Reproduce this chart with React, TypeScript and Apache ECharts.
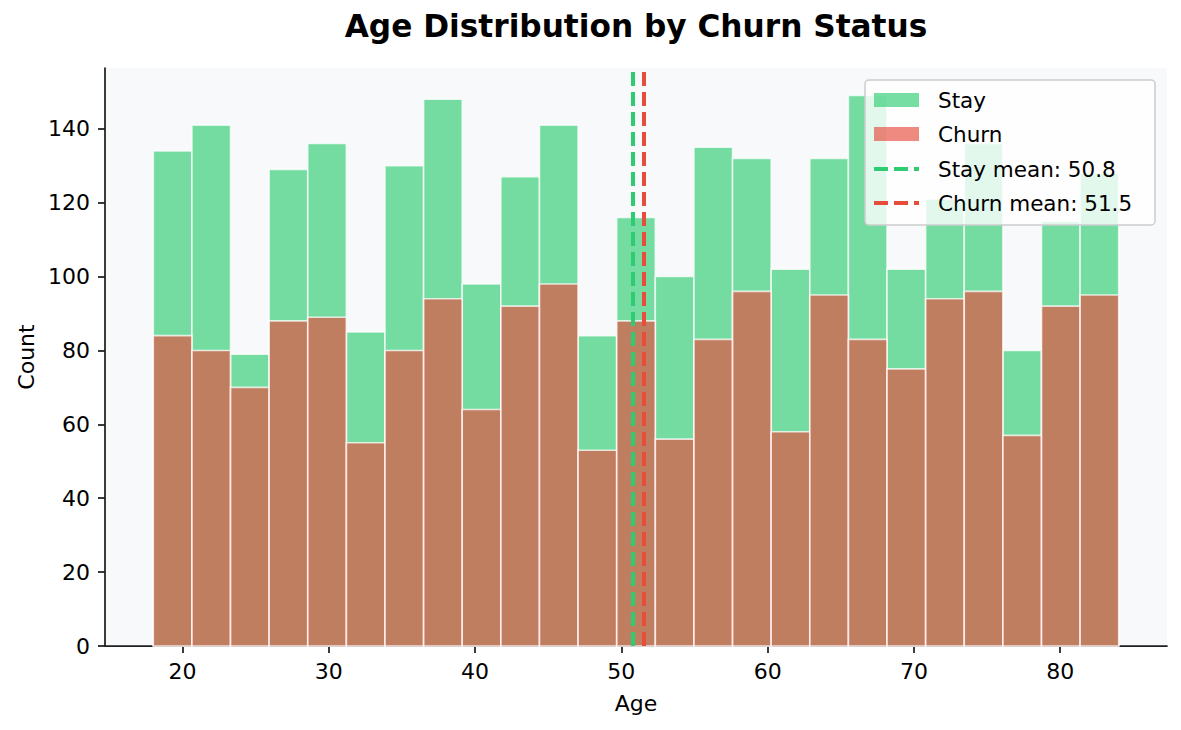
import React, { useEffect, useRef } from "react";
import * as echarts from "echarts";

// ---- data ----
const BIN_MIN = 18;
const BIN_MAX = 84;
const BIN_COUNT = 25;
const stayCounts = [134, 141, 79, 129, 136, 85, 130, 148, 98, 127, 141, 84, 116, 100, 135, 132, 102, 132, 149, 102, 121, 136, 80, 115, 128];
const churnCounts = [84, 80, 70, 88, 89, 55, 80, 94, 64, 92, 98, 53, 88, 56, 83, 96, 58, 95, 83, 75, 94, 96, 57, 92, 95];
const stayMean = 50.8;
const churnMean = 51.5;
const xTicks = [20, 30, 40, 50, 60, 70, 80];
const yTicks = [0, 20, 40, 60, 80, 100, 120, 140];
const seriesNames = ["Stay", "Churn"];
const meanLabels = [`Stay mean: ${stayMean}`, `Churn mean: ${churnMean}`];
const TITLE = "Age Distribution by Churn Status";

const GREEN = "#2ecc71";
const RED = "#e74c3c";
const FONT = "DejaVu Sans";

function toRgba(hex: string, a: number) {
  const n = parseInt(hex.slice(1), 16);
  return `rgba(${(n >> 16) & 255},${(n >> 8) & 255},${n & 255},${a})`;
}

const binWidth = (BIN_MAX - BIN_MIN) / BIN_COUNT;
const binRows = (counts: number[]) =>
  counts.map((c, i) => [BIN_MIN + i * binWidth, BIN_MIN + (i + 1) * binWidth, c]);

export default function App() {
  const ref = useRef<HTMLDivElement>(null);
  useEffect(() => {
    if (!ref.current) return;
    const chart = echarts.init(ref.current, null, { renderer: "svg" });
    const span = BIN_MAX - BIN_MIN;
    const xMin = BIN_MIN - 0.05 * span;
    const xMax = BIN_MAX + 0.05 * span;
    const yMax = Math.max(...stayCounts, ...churnCounts) * 1.05;
    const ALPHA = 0.65;

    const histSeries = (name: string, counts: number[], color: string, z: number, extra: any = {}) => ({
      type: "custom",
      name,
      z,
      data: binRows(counts),
      encode: { x: [0, 1], y: 2 },
      renderItem: (_p: any, api: any) => {
        const p0 = api.coord([api.value(0), 0]);
        const p1 = api.coord([api.value(1), api.value(2)]);
        return {
          type: "rect",
          shape: { x: p0[0], y: p1[1], width: p1[0] - p0[0], height: p0[1] - p1[1] },
          style: { fill: toRgba(color, ALPHA), stroke: "rgba(255,255,255,0.75)", lineWidth: 1.6 },
        };
      },
      ...extra,
    });

    const axisColor = "#1f1f1f";
    const lx = 874, lw = 45, tx = 938;
    const rowsY = [100, 134, 169, 203];
    const LZ = 100;

    chart.setOption({
      animation: false,
      title: {
        text: TITLE,
        left: 631,
        textAlign: "center",
        top: 5,
        textStyle: { fontFamily: FONT, fontSize: 31.2, fontWeight: "bold", color: "#000" },
      },
      grid: {
        left: 105,
        right: 14,
        top: 68,
        bottom: 84,
        show: true,
        backgroundColor: "#f8f9fa",
        borderWidth: 0,
      },
      xAxis: {
        type: "value",
        min: xMin,
        max: xMax,
        name: "Age",
        nameLocation: "middle",
        nameGap: 46,
        nameTextStyle: { fontFamily: FONT, fontSize: 22, color: "#000" },
        axisLine: { show: true, lineStyle: { color: axisColor, width: 1.75 } },
        axisTick: { show: true, length: 7, lineStyle: { color: axisColor, width: 1.75 }, customValues: xTicks },
        axisLabel: { fontFamily: FONT, fontSize: 22, color: "#000", margin: 14, customValues: xTicks },
        splitLine: { show: false },
      },
      yAxis: {
        type: "value",
        min: 0,
        max: yMax,
        name: "Count",
        nameLocation: "middle",
        nameGap: 68,
        nameTextStyle: { fontFamily: FONT, fontSize: 22, color: "#000" },
        axisLine: { show: true, lineStyle: { color: axisColor, width: 1.75 } },
        axisTick: { show: true, length: 7, lineStyle: { color: axisColor, width: 1.75 }, customValues: yTicks },
        axisLabel: { fontFamily: FONT, fontSize: 22, color: "#000", margin: 15, customValues: yTicks },
        splitLine: { show: false },
      },
      series: [
        histSeries(seriesNames[0], stayCounts, GREEN, 2),
        histSeries(seriesNames[1], churnCounts, RED, 3, {
          markLine: {
            silent: true,
            symbol: ["none", "none"],
            label: { show: false },
            z: 5,
            data: [
              { xAxis: stayMean, lineStyle: { color: GREEN, width: 4, type: [14, 6] } },
              { xAxis: churnMean, lineStyle: { color: RED, width: 4, type: [14, 6] } },
            ],
          },
        }),
      ],
      graphic: [
        {
          type: "rect",
          z: LZ,
          zlevel: 1,
          shape: { x: 865, y: 80, width: 290, height: 145, r: 4 },
          style: { fill: "rgba(255,255,255,0.8)", stroke: "#cccccc", lineWidth: 1.5 },
        },
        { type: "rect", z: LZ + 1, zlevel: 1, shape: { x: lx, y: 93, width: lw, height: 14 }, style: { fill: toRgba(GREEN, ALPHA) } },
        { type: "rect", z: LZ + 1, zlevel: 1, shape: { x: lx, y: 127, width: lw, height: 14 }, style: { fill: toRgba(RED, ALPHA) } },
        {
          type: "line",
          z: LZ + 1,
          zlevel: 1,
          shape: { x1: lx, y1: rowsY[2], x2: lx + lw, y2: rowsY[2] },
          style: { stroke: GREEN, lineWidth: 4, lineDash: [14, 6] },
        },
        {
          type: "line",
          z: LZ + 1,
          zlevel: 1,
          shape: { x1: lx, y1: rowsY[3], x2: lx + lw, y2: rowsY[3] },
          style: { stroke: RED, lineWidth: 4, lineDash: [14, 6] },
        },
        ...[...seriesNames, ...meanLabels].map((t, i) => ({
          type: "text",
          z: LZ + 1,
          zlevel: 1,
          x: tx,
          y: rowsY[i],
          style: {
            text: t,
            fontFamily: FONT,
            fontSize: 21.5,
            fill: "#000",
            verticalAlign: "middle",
            align: "left",
          },
        })),
      ],
    });
    return () => chart.dispose();
  }, []);
  return (
    <div
      ref={ref}
      style={{ position: "fixed", left: 0, top: 0, width: 1181, height: 730, background: "#fff" }}
    />
  );
}
